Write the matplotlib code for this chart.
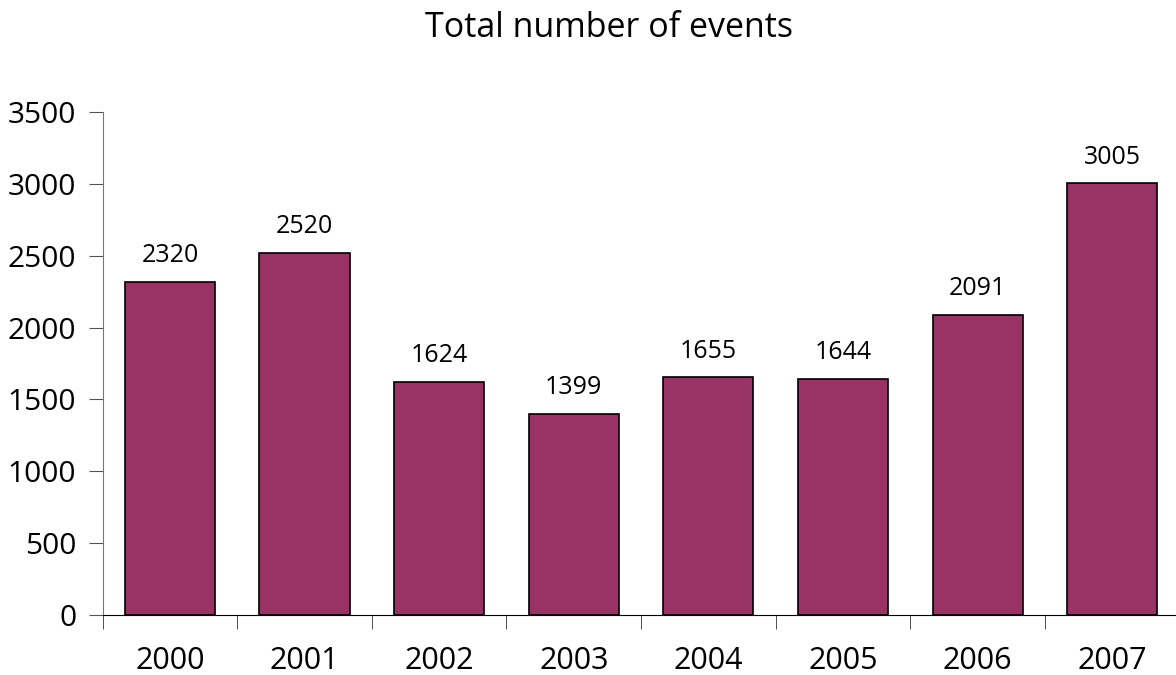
import numpy as np
import matplotlib
matplotlib.use("Agg")
import matplotlib.pyplot as plt

years = ["2000", "2001", "2002", "2003", "2004", "2005", "2006", "2007"]
events = [2320, 2520, 1624, 1399, 1655, 1644, 2091, 3005]

BAR_COLOR = "#993366"

plt.rcParams["font.family"] = ["Open Sans", "DejaVu Sans"]

fig = plt.figure(figsize=(11.76, 6.75), dpi=100)
ax = fig.add_axes([0.0873, 0.0889, 0.9157, 0.745])

x = np.arange(len(years))
ax.bar(x, events, width=0.67, color=BAR_COLOR, edgecolor="black", linewidth=1.2)

for xi, v in zip(x, events):
    ax.text(xi, v + 95, str(v), ha="center", va="bottom", fontsize=18)

ax.set_xlim(-0.5, len(years) - 0.5)
ax.set_ylim(0, 3500)
ax.set_yticks(np.arange(0, 3501, 500))
ax.tick_params(axis="y", labelsize=21.5, length=10, pad=9, direction="out", color="#555555")

# category labels centered, tick marks at category boundaries
ax.set_xticks(x)
ax.set_xticklabels(years, fontsize=22)
ax.tick_params(axis="x", which="major", length=0, pad=22)
ax.set_xticks(np.arange(-0.5, len(years)), minor=True)
ax.tick_params(axis="x", which="minor", length=10, direction="out", color="#333333")

ax.spines["top"].set_visible(False)
ax.spines["right"].set_visible(False)
ax.spines["left"].set_color("#777777")
ax.spines["bottom"].set_color("black")

fig.text(0.518, 0.958, "Total number of events", ha="center", va="center", fontsize=24.5)

fig.savefig("out.png", dpi=100)
